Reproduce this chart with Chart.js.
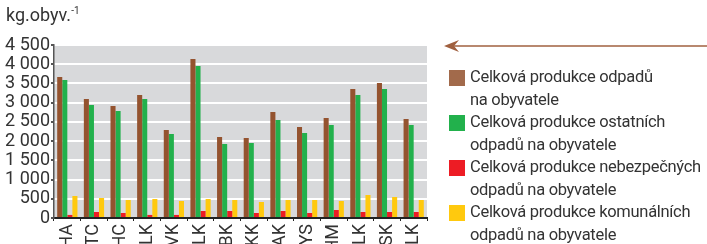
<!DOCTYPE html>
<html>
<head>
<meta charset="utf-8">
<script src="https://cdn.jsdelivr.net/npm/chart.js@4/dist/chart.umd.min.js"></script>
<style>
    html, body { margin: 0; padding: 0; width: 707px; height: 244px; overflow: hidden; background: #fff; }
    #wrap { position: relative; width: 707px; height: 300px; }
    #title { position: absolute; left: 6px; top: 4px; font: 18px Roboto, sans-serif; color: #333; }
    #title sup { font-size: 10px; vertical-align: 7px; }
    #legend { position: absolute; left: 449px; top: 66px; font: 16.5px Roboto, sans-serif; color: #333; line-height: 22.5px; white-space: nowrap; letter-spacing: -0.3px; }
    #legend .item { position: relative; padding-left: 21px; }
    #legend .box { position: absolute; left: 0; top: 4px; width: 16px; height: 16px; }
</style>
</head>
<body>
<div id="wrap">
    <canvas id="chart" width="707" height="300"></canvas>
    <div id="title">kg.obyv.<sup>-1</sup></div>
    <div id="legend"></div>
</div>
<script>
var regions = ['PHA', 'STC', 'JHC', 'PLK', 'KVK', 'ULK', 'LBK', 'HKK', 'PAK', 'VYS', 'JHM', 'OLK', 'MSK', 'ZLK'];
var celkova = [3668, 3096, 2914, 3200, 2289, 4136, 2107, 2081, 2758, 2367, 2601, 3356, 3512, 2575];
var ostatni = [3590, 2940, 2784, 3096, 2185, 3954, 1925, 1951, 2549, 2211, 2419, 3200, 3356, 2419];
var nebezpecne = [80, 156, 130, 80, 80, 182, 182, 130, 182, 130, 208, 156, 156, 156];
var komunalni = [572, 520, 468, 494, 442, 494, 468, 416, 468, 468, 442, 598, 546, 468];
var yTicks = [0, 500, 1000, 1500, 2000, 2500, 3000, 3500, 4000, 4500];

var series = [
    { label: ['Celková produkce odpadů', 'na obyvatele'], data: celkova, color: '#94532f', legendColor: '#a26a4b' },
    { label: ['Celková produkce ostatních', 'odpadů na obyvatele'], data: ostatni, color: '#22b14c', legendColor: '#22b14c' },
    { label: ['Celková produkce nebezpečných', 'odpadů na obyvatele'], data: nebezpecne, color: '#ed1c24', legendColor: '#ed1c24' },
    { label: ['Celková produkce komunálních', 'odpadů na obyvatele'], data: komunalni, color: '#ffc90e', legendColor: '#ffc90e' }
];

var plotBg = {
    id: 'plotBg',
    beforeDraw: function(chart) {
        var a = chart.chartArea, ctx = chart.ctx;
        ctx.save();
        ctx.fillStyle = '#d8d9db';
        ctx.fillRect(a.left, a.top, a.right - a.left, a.bottom - a.top);
        ctx.restore();
    },
    afterDraw: function(chart) {
        // arrow pointing at the chart
        var ctx = chart.ctx;
        ctx.save();
        ctx.strokeStyle = '#a0603f';
        ctx.fillStyle = '#a0603f';
        ctx.lineWidth = 1.5;
        ctx.beginPath();
        ctx.moveTo(452, 46);
        ctx.lineTo(707, 46);
        ctx.stroke();
        ctx.beginPath();
        ctx.moveTo(444, 46);
        ctx.lineTo(459, 40);
        ctx.lineTo(454, 46);
        ctx.lineTo(459, 52);
        ctx.closePath();
        ctx.fill();
        ctx.restore();
    }
};

function fmt(v) {
    return String(v).replace(/\B(?=(\d{3})+(?!\d))/g, ' ');
}

var ctx = document.getElementById('chart').getContext('2d');
var chart = new Chart(ctx, {
    type: 'bar',
    data: {
        labels: regions,
        datasets: series.map(function(s) {
            return { label: s.label.join(' '), data: s.data, backgroundColor: s.color, borderWidth: 0,
                     barPercentage: 1, categoryPercentage: 0.76 };
        })
    },
    options: {
        responsive: false,
        animation: false,
        layout: { padding: { top: 45, right: 280, left: 0, bottom: 0 } },
        plugins: { legend: { display: false }, tooltip: { enabled: false } },
        scales: {
            x: {
                offset: true,
                grid: { display: true, drawOnChartArea: false, drawTicks: true, tickLength: 3, tickColor: '#222', lineWidth: 1 },
                border: { display: true, color: '#222', width: 2 },
                ticks: { minRotation: 90, maxRotation: 90, autoSkip: false, padding: 3, color: '#333',
                         font: { family: 'Roboto', size: 18 } },
                afterFit: function(scale) { scale.height = 82; }
            },
            y: {
                min: 0, max: 4500,
                afterBuildTicks: function(scale) { scale.ticks = yTicks.map(function(v) { return { value: v }; }); },
                grid: { color: '#ffffff', lineWidth: 2, drawTicks: true, tickLength: 3, tickColor: '#555' },
                border: { display: true, color: '#555', width: 1.5 },
                ticks: { autoSkip: false, padding: 1, color: '#333', font: { family: 'Roboto', size: 18 },
                         callback: function(v) { return fmt(v); } },
                afterFit: function(scale) { scale.width = 54; }
            }
        }
    },
    plugins: [plotBg]
});

var legend = document.getElementById('legend');
series.forEach(function(s) {
    var item = document.createElement('div');
    item.className = 'item';
    var box = document.createElement('span');
    box.className = 'box';
    box.style.background = s.legendColor;
    item.appendChild(box);
    item.appendChild(document.createTextNode(s.label[0]));
    item.appendChild(document.createElement('br'));
    item.appendChild(document.createTextNode(s.label[1]));
    legend.appendChild(item);
});
</script>
</body>
</html>
